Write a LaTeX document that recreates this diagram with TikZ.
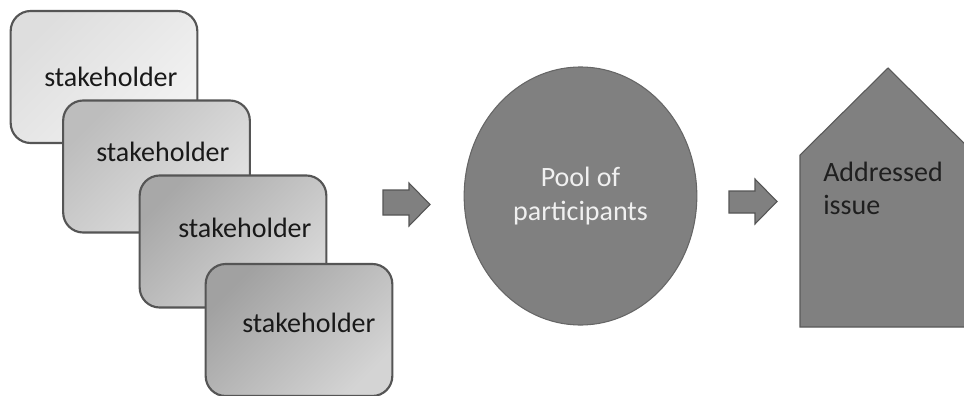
\documentclass[tikz,border=0pt]{standalone}
\usepackage{fontspec}
\setmainfont{Carlito}
\usetikzlibrary{shapes.geometric}
\definecolor{edge}{HTML}{555555}
\definecolor{blockfill}{HTML}{808080}
\tikzset{
  stk/.style 2 args={draw=edge, line width=1.6pt, rounded corners=15pt,
    minimum width=140pt, minimum height=99pt, inner sep=0pt,
    top color=#1, bottom color=#2, shading angle=45},
  lbl/.style={anchor=base west, inner sep=0pt, font=\fontsize{21}{25}\selectfont, text=black!90},
  blockarrow/.style={fill=blockfill, draw=edge, line width=0.8pt},
}
\begin{document}
\begin{tikzpicture}[x=0.75pt, y=-0.75pt]
  \useasboundingbox (0,0) rectangle (964,396);
  \clip (0,0) rectangle (964,396);

  % stacked stakeholder cards, darker towards the upper left
  \node[stk={black!13}{black!5}] (s1) at (104,77) {};
  \node[lbl] (t1) at (44,86) {stakeholder};
  \node[stk={black!26}{black!11}] (s2) at (156.5,166.5) {};
  \node[lbl] (t2) at (96,161) {stakeholder};
  \node[stk={black!34}{black!15}] (s3) at (233,241.5) {};
  \node[lbl] (t3) at (178,237) {stakeholder};
  \node[stk={black!37}{black!17}] (s4) at (299,330) {};
  \node[lbl] (t4) at (242,332) {stakeholder};

  % first block arrow
  \draw[blockarrow] (383,190) -- (409,190) -- (409,183) -- (430,204.5)
    -- (409,226) -- (409,215) -- (383,215) -- cycle;

  % pool of participants
  \node[ellipse, fill=blockfill, draw=black!60, line width=0.8pt,
        minimum width=174.5pt, minimum height=193.5pt, inner sep=0pt,
        align=center, text=white!94!black,
        font=\fontsize{21}{26}\selectfont] (pool) at (580.5,196) {Pool of\\participants};

  % second block arrow
  \draw[blockarrow] (729,191) -- (755,191) -- (755,179) -- (777,201.5)
    -- (755,224) -- (755,213) -- (729,213) -- cycle;

  % house-shaped outcome
  \draw[fill=blockfill, draw=black!65, line width=0.8pt]
    (800,155) -- (888,68) -- (976,155) -- (976,327) -- (800,327) -- cycle;
  \node[anchor=base west, inner sep=0pt, align=left, text=black!88,
        font=\fontsize{21}{24.5}\selectfont] (addr) at (823,214.5) {Addressed\\issue};
\end{tikzpicture}
\end{document}
